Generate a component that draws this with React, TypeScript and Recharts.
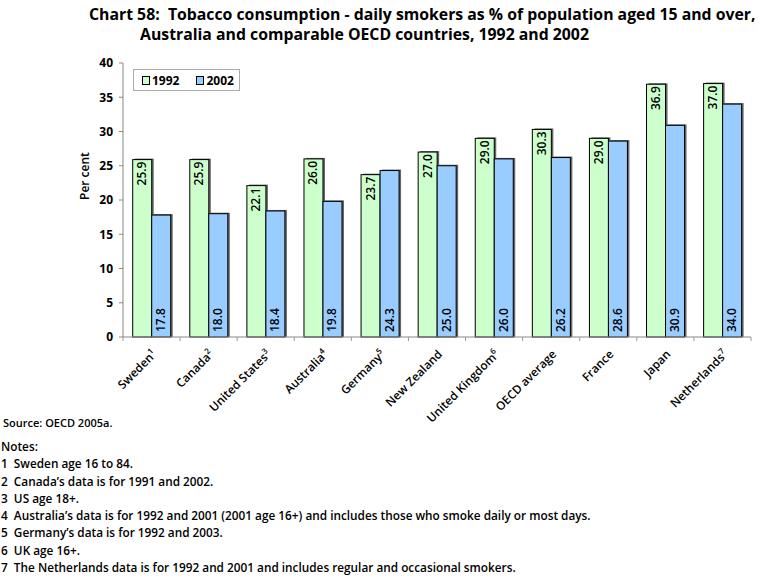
import React from 'react'
import { BarChart, Bar, XAxis, YAxis, Legend, LabelList } from 'recharts'

const categories = ['Sweden', 'Canada', 'United States', 'Australia', 'Germany', 'New Zealand', 'United Kingdom', 'OECD average', 'France', 'Japan', 'Netherlands']
const footnotes = ['1', '2', '3', '4', '5', '', '6', '', '', '', '7']
const values1992 = [25.9, 25.9, 22.1, 26.0, 23.7, 27.0, 29.0, 30.3, 29.0, 36.9, 37.0]
const values2002 = [17.8, 18.0, 18.4, 19.8, 24.3, 25.0, 26.0, 26.2, 28.6, 30.9, 34.0]
const yTicks = [0, 5, 10, 15, 20, 25, 30, 35, 40]
const notes = [
  '1  Sweden age 16 to 84.',
  '2  Canada\u2019s data is for 1991 and 2002.',
  '3  US age 18+.',
  '4  Australia\u2019s data is for 1992 and 2001 (2001 age 16+) and includes those who smoke daily or most days.',
  '5  Germany\u2019s data is for 1992 and 2003.',
  '6  UK age 16+.',
  '7  The Netherlands data is for 1992 and 2001 and includes regular and occasional smokers.',
]

const FONT = '"Open Sans", "DejaVu Sans", sans-serif'
const GREEN = '#ccffcc'
const BLUE = '#99ccff'

const data = categories.map((c, i) => ({ name: c, note: footnotes[i], y1992: values1992[i], y2002: values2002[i] }))

const CHART_H = 450
const X_AXIS_H = 113
const PLOT_LEFT = 123
const PLOT_RIGHT = 751
const PLOT_BOTTOM = CHART_H - X_AXIS_H
const BAND = (PLOT_RIGHT - PLOT_LEFT) / categories.length

function ShadowBar(props: any) {
  const { x, y, width, height, fill } = props
  if (!height) return null
  return (
    <g>
      <rect x={x + 2} y={y - 1} width={width} height={height + 1} fill="#666" />
      <rect x={x} y={y} width={width} height={height} fill={fill} stroke="#000" strokeWidth={1} />
    </g>
  )
}

function XTick(props: any) {
  const { x, index } = props
  const d = data[index]
  const ax = x + 6
  const ay = PLOT_BOTTOM + 18
  return (
    <g>
      <line x1={x - BAND / 2} x2={x - BAND / 2} y1={PLOT_BOTTOM} y2={PLOT_BOTTOM + 4} stroke="#999" />
      {index === categories.length - 1 && (
        <line x1={x + BAND / 2} x2={x + BAND / 2} y1={PLOT_BOTTOM} y2={PLOT_BOTTOM + 4} stroke="#999" />
      )}
      <text
        x={ax}
        y={ay}
        textAnchor="end"
        transform={`rotate(-45, ${ax}, ${ay})`}
        fontSize={11.8}
        fontWeight={600}
        fontFamily={FONT}
        fill="#000"
      >
        {d.name}
        {d.note ? <tspan fontSize={8} dy={-5}>{d.note}</tspan> : null}
      </text>
    </g>
  )
}

function TopLabel(props: any) {
  const { x, y, width, value } = props
  const cx = x + width / 2 + 4
  const cy = y + 2
  return (
    <text x={cx} y={cy} transform={`rotate(-90, ${cx}, ${cy})`} textAnchor="end" fontSize={12} fontWeight={600} fontFamily={FONT} fill="#000">
      {value.toFixed(1)}
    </text>
  )
}

function BottomLabel(props: any) {
  const { x, y, width, height, value } = props
  const cx = x + width / 2 + 4
  const cy = y + height - 5
  return (
    <text x={cx} y={cy} transform={`rotate(-90, ${cx}, ${cy})`} textAnchor="start" fontSize={12} fontWeight={600} fontFamily={FONT} fill="#000">
      {value.toFixed(1)}
    </text>
  )
}

function LegendBox() {
  const item = (color: string, label: string) => (
    <span style={{ display: 'inline-flex', alignItems: 'center', marginRight: 17 }}>
      <span style={{ display: 'inline-block', width: 6, height: 7, background: color, border: '1px solid #000', marginRight: 2 }} />
      {label}
    </span>
  )
  return (
    <div style={{ border: '1px solid #aaa', width: 107, height: 22, boxSizing: 'border-box', display: 'flex', alignItems: 'center', paddingLeft: 8, fontSize: 12, fontWeight: 700, fontFamily: FONT, background: '#fff', whiteSpace: 'nowrap' }}>
      {item(GREEN, '1992')}
      {item(BLUE, '2002')}
    </div>
  )
}

export default function App() {
  return (
    <div style={{ position: 'absolute', left: 0, top: 0, width: 769, height: 576, background: '#fff', fontFamily: FONT, overflow: 'hidden' }}>
      <div style={{ position: 'absolute', left: 89, top: 4, fontSize: 15.8, fontWeight: 700, lineHeight: '20px', whiteSpace: 'nowrap' }}>
        <div>Chart 58:&nbsp; Tobacco consumption - daily smokers as % of population aged 15 and over,</div>
        <div style={{ paddingLeft: 51 }}>Australia and comparable OECD countries, 1992 and 2002</div>
      </div>

      <div style={{ position: 'absolute', left: 0, top: 0 }}>
        <BarChart
          width={769}
          height={CHART_H}
          data={data}
          margin={{ top: 63, right: 769 - PLOT_RIGHT, bottom: 0, left: 0 }}
          barCategoryGap="17%"
          barGap={0}
        >
          <XAxis
            dataKey="name"
            interval={0}
            axisLine={{ stroke: '#888' }}
            tickLine={false}
            tick={<XTick />}
            height={X_AXIS_H}
          />
          <YAxis
            domain={[0, 40]}
            ticks={yTicks}
            width={PLOT_LEFT}
            axisLine={{ stroke: '#888' }}
            tickLine={{ stroke: '#888' }}
            tickSize={4}
            tickMargin={6}
            tick={{ fontSize: 12, fontWeight: 700, fill: '#000', fontFamily: FONT }}
            label={{ value: 'Per cent', angle: -90, position: 'insideLeft', offset: 85, fontSize: 12, fontWeight: 600, fill: '#000', fontFamily: FONT }}
          />
          <Legend
            layout="horizontal"
            verticalAlign="middle"
            align="center"
            content={<LegendBox />}
            wrapperStyle={{ left: 133, top: 69, width: 'auto' }}
          />
          <Bar dataKey="y1992" name="1992" fill={GREEN} shape={<ShadowBar />} isAnimationActive={false}>
            <LabelList dataKey="y1992" content={<TopLabel />} />
          </Bar>
          <Bar dataKey="y2002" name="2002" fill={BLUE} shape={<ShadowBar />} isAnimationActive={false}>
            <LabelList dataKey="y2002" content={<BottomLabel />} />
          </Bar>
        </BarChart>
      </div>

      <div style={{ position: 'absolute', left: 3, top: 415, fontSize: 11, fontWeight: 600 }}>Source: OECD 2005a.</div>
      <div style={{ position: 'absolute', left: 1, top: 438, fontSize: 11.8, fontWeight: 600, lineHeight: '17.3px', whiteSpace: 'pre' }}>
        <div>Notes:</div>
        {notes.map((n, i) => <div key={i}>{n}</div>)}
      </div>
    </div>
  )
}
